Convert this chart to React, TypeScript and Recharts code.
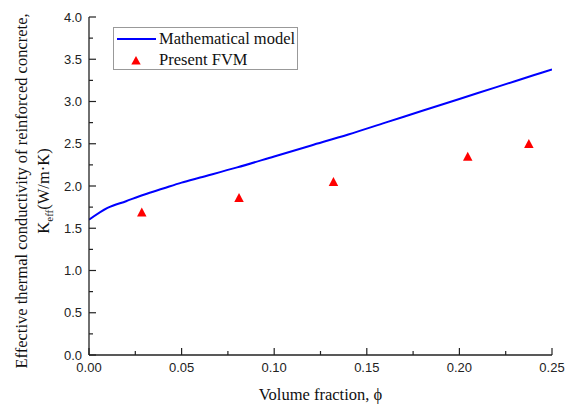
import React from "react";
import {
  ComposedChart,
  Line,
  Scatter,
  XAxis,
  YAxis,
} from "recharts";

// mathematical model curve
const MODEL_X = [0, 0.01, 0.02, 0.03, 0.04, 0.05, 0.06, 0.08, 0.1, 0.12, 0.14, 0.16, 0.18, 0.2, 0.22, 0.24, 0.25];
const MODEL_Y = [1.6, 1.74, 1.82, 1.9, 1.97, 2.04, 2.1, 2.22, 2.35, 2.48, 2.61, 2.75, 2.89, 3.03, 3.17, 3.31, 3.38];

// present FVM points
const FVM_X = [0.0285, 0.081, 0.132, 0.2045, 0.2375];
const FVM_Y = [1.69, 1.86, 2.05, 2.35, 2.5];

const X_TICKS = [0, 0.025, 0.05, 0.075, 0.1, 0.125, 0.15, 0.175, 0.2, 0.225, 0.25];
const Y_TICKS = [0, 0.25, 0.5, 0.75, 1, 1.25, 1.5, 1.75, 2, 2.25, 2.5, 2.75, 3, 3.25, 3.5, 3.75, 4];

const modelData = MODEL_X.map((x, i) => ({ x, y: MODEL_Y[i] }));
const fvmData = FVM_X.map((x, i) => ({ x, y: FVM_Y[i] }));

const AXIS = "#222";
const SANS = "'Liberation Sans', Arial, sans-serif";
const SERIF = "'Liberation Serif', 'Times New Roman', serif";
const TICK_MARGIN = 7;

const isMajor = (v: number) => Math.abs(v / 0.05 - Math.round(v / 0.05)) < 1e-6;
const isMajorY = (v: number) => Math.abs(v / 0.5 - Math.round(v / 0.5)) < 1e-6;

const XTick = (props: any) => {
  const { x, y, payload } = props;
  const v = payload.value as number;
  const ay = y - TICK_MARGIN;
  const major = isMajor(v);
  return (
    <g>
      <line x1={x} x2={x} y1={ay} y2={ay - (major ? 7 : 4)} stroke={AXIS} strokeWidth={1.2} />
      {major && (
        <text x={x} y={ay + 17} textAnchor="middle" fontFamily={SANS} fontSize={13} fill="#222">
          {v.toFixed(2)}
        </text>
      )}
    </g>
  );
};

const YTick = (props: any) => {
  const { x, y, payload } = props;
  const v = payload.value as number;
  const ax = x + TICK_MARGIN;
  const major = isMajorY(v);
  return (
    <g>
      <line x1={ax} x2={ax + (major ? 7 : 4)} y1={y} y2={y} stroke={AXIS} strokeWidth={1.2} />
      {major && (
        <text x={x} y={y + 4.5} textAnchor="end" fontFamily={SANS} fontSize={13} fill="#222">
          {v.toFixed(1)}
        </text>
      )}
    </g>
  );
};

const Triangle = (props: any) => {
  const { cx, cy } = props;
  const h = 8.5;
  const w = 9.5;
  return (
    <polygon
      points={`${cx},${cy - h / 2 - 0.5} ${cx - w / 2},${cy + h / 2} ${cx + w / 2},${cy + h / 2}`}
      fill="#ff0000"
    />
  );
};

const YTitle = (props: any) => {
  const { viewBox } = props;
  const cy = viewBox.y + viewBox.height / 2 + 5;
  return (
    <g fontFamily={SERIF} fontSize={16.5} fill="#111">
      <text x={27} y={cy} textAnchor="middle" transform={`rotate(-90, 27, ${cy})`}>
        Effective thermal conductivity of reinforced concrete,
      </text>
      <text x={49} y={cy} textAnchor="middle" transform={`rotate(-90, 49, ${cy})`}>
        K<tspan fontSize={11} dy={4}>eff</tspan>
        <tspan dy={-4}>(W/m·K)</tspan>
      </text>
    </g>
  );
};

export default function App() {
  return (
    <div style={{ position: "absolute", left: 0, top: 0, width: 577, height: 405, background: "#fff" }}>
      <ComposedChart
        width={577}
        height={405}
        margin={{ top: 17, right: 25, bottom: 0, left: 0 }}
      >
        <XAxis
          dataKey="x"
          type="number"
          domain={[0, 0.25]}
          ticks={X_TICKS}
          interval={0}
          allowDataOverflow
          height={50}
          tickSize={0}
          tickMargin={TICK_MARGIN}
          tick={<XTick />}
          axisLine={{ stroke: AXIS, strokeWidth: 1.3 }}
          label={{
            value: "Volume fraction, ϕ",
            position: "insideBottom",
            offset: 5,
            style: { fontFamily: SERIF, fontSize: 16.5, fill: "#111" },
          }}
        />
        <XAxis
          xAxisId="top"
          orientation="top"
          type="number"
          domain={[0, 0.25]}
          height={0}
          tick={false}
          tickLine={false}
          axisLine={{ stroke: AXIS, strokeWidth: 1.3 }}
        />
        <YAxis
          dataKey="y"
          type="number"
          domain={[0, 4]}
          ticks={Y_TICKS}
          interval={0}
          allowDataOverflow
          width={89}
          tickSize={0}
          tickMargin={TICK_MARGIN}
          tick={<YTick />}
          axisLine={{ stroke: AXIS, strokeWidth: 1.3 }}
          label={<YTitle />}
        />
        <YAxis
          yAxisId="right"
          orientation="right"
          type="number"
          domain={[0, 4]}
          width={0}
          tick={false}
          tickLine={false}
          axisLine={{ stroke: AXIS, strokeWidth: 1.3 }}
        />
        <Line
          data={modelData}
          dataKey="y"
          type="monotone"
          stroke="#0000ff"
          strokeWidth={2}
          dot={false}
          isAnimationActive={false}
        />
        <Scatter
          data={fvmData}
          dataKey="y"
          shape={<Triangle />}
          isAnimationActive={false}
        />
      </ComposedChart>
      <div
        style={{
          position: "absolute",
          left: 113,
          top: 27,
          width: 183,
          height: 41,
          border: "1px solid #999",
          fontFamily: SERIF,
          fontSize: 16.5,
          color: "#111",
          background: "#fff",
        }}
      >
        <svg width={183} height={41} style={{ position: "absolute", left: 0, top: 0 }}>
          <line x1={3} x2={42} y1={11} y2={11} stroke="#0000ff" strokeWidth={2} />
          <polygon points="22,28 17.3,36.5 26.7,36.5" fill="#ff0000" />
        </svg>
        <div style={{ position: "absolute", left: 45, top: 1, whiteSpace: "nowrap", lineHeight: "20px" }}>
          Mathematical model
        </div>
        <div style={{ position: "absolute", left: 45, top: 22, whiteSpace: "nowrap", lineHeight: "20px" }}>
          Present FVM
        </div>
      </div>
    </div>
  );
}
